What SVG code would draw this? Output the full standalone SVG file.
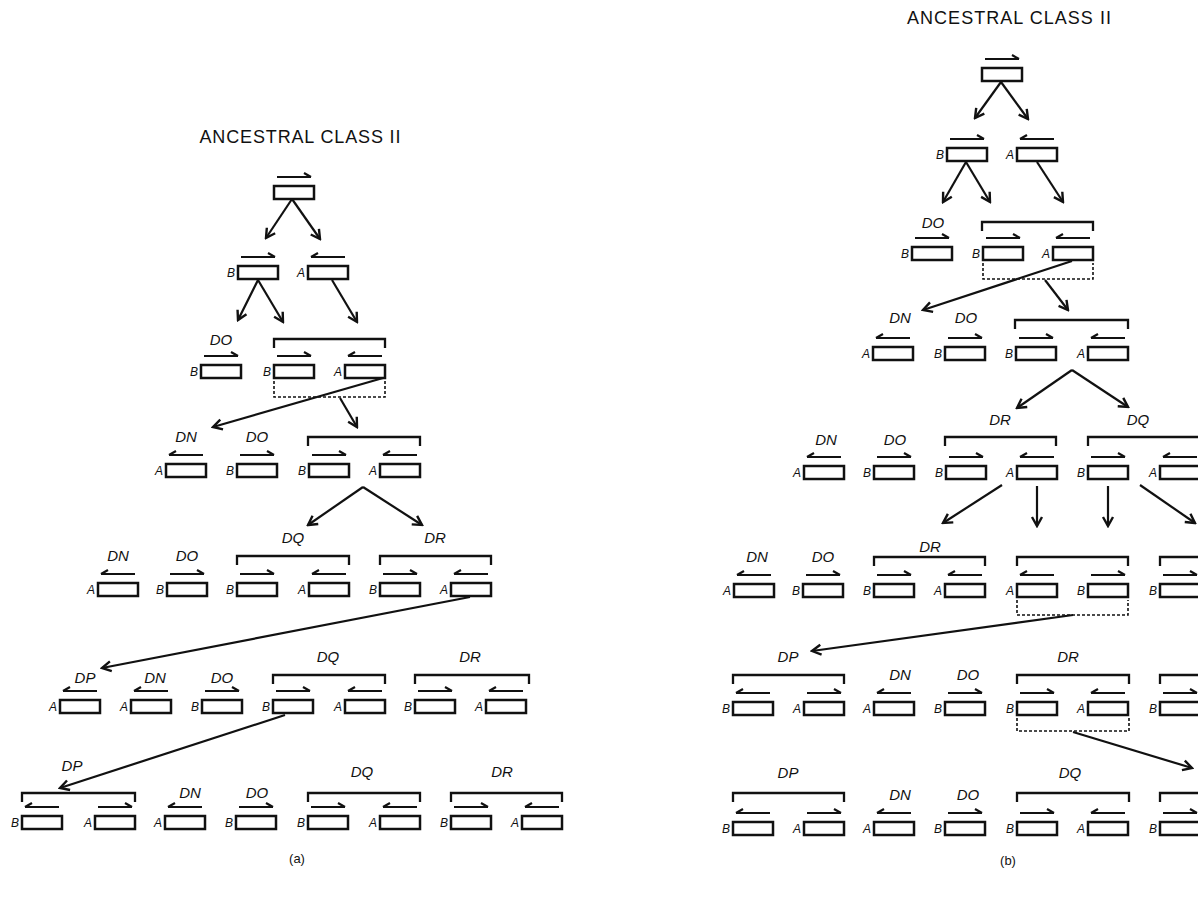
<svg xmlns="http://www.w3.org/2000/svg" xmlns:xlink="http://www.w3.org/1999/xlink" width="1198" height="902" viewBox="0 0 1198 902">
<style>
.br{fill:none;stroke:#111;stroke-width:2.3}
.ds{fill:none;stroke:#111;stroke-width:1.6;stroke-dasharray:3 2}
.cn{fill:none;stroke:#111;stroke-width:2.2;marker-end:url(#ah)}
.lb{font-family:"Liberation Sans",Arial,sans-serif;font-style:italic;font-size:15px;text-anchor:middle;fill:#111}
.lt{font-family:"Liberation Sans",Arial,sans-serif;font-style:italic;font-size:12px;text-anchor:end;fill:#111}
.tt{font-family:"Liberation Sans",Arial,sans-serif;font-size:18px;text-anchor:middle;fill:#111}
.cp{font-family:"Liberation Sans",Arial,sans-serif;font-size:13px;text-anchor:middle;fill:#111}
</style>
<defs>
<rect id="bx" width="40" height="13" fill="#fff" stroke="#111" stroke-width="2.5"/>
<path id="hr" d="M0 0H34M34 0L27 -4" fill="none" stroke="#111" stroke-width="2.2"/>
<path id="hl" d="M0 0H34M0 0L7 -4" fill="none" stroke="#111" stroke-width="2.2"/>
<marker id="ah" viewBox="-11 -7 13 14" refX="0" refY="0" markerWidth="13" markerHeight="14" markerUnits="userSpaceOnUse" orient="auto">
<path d="M-9 -5L0 0L-9 5" fill="none" stroke="#111" stroke-width="2.4"/>
</marker>
</defs>
<rect width="1198" height="902" fill="#fff"/>

<!-- ===== (a) ===== -->
<text class="tt" x="300" y="143" textLength="201" lengthAdjust="spacing">ANCESTRAL CLASS II</text>
<g id="a-root"><use href="#hr" x="277" y="177"/><use href="#bx" x="274" y="186"/></g>
<g id="a2-B"><use href="#hr" x="241" y="257"/><use href="#bx" x="238" y="266"/><text class="lt" x="235" y="277">B</text></g>
<g id="a2-A"><use href="#hl" x="311" y="257"/><use href="#bx" x="308" y="266"/><text class="lt" x="305" y="277">A</text></g>

<g id="a3-DO"><text class="lb" x="221" y="345">DO</text><use href="#hr" x="204" y="356"/><use href="#bx" x="201" y="365"/><text class="lt" x="198" y="376">B</text></g>
<g id="a3-pair"><path class="br" d="M274 348V339H385V348"/><use href="#hr" x="277" y="356"/><use href="#bx" x="274" y="365"/><text class="lt" x="271" y="376">B</text><use href="#hl" x="348" y="356"/><use href="#bx" x="345" y="365"/><text class="lt" x="342" y="376">A</text><path class="ds" d="M274 381V397H385V381"/></g>

<g id="a4-DN"><text class="lb" x="186" y="442">DN</text><use href="#hl" x="169" y="455"/><use href="#bx" x="166" y="464"/><text class="lt" x="163" y="475">A</text></g>
<g id="a4-DO"><text class="lb" x="257" y="442">DO</text><use href="#hr" x="240" y="455"/><use href="#bx" x="237" y="464"/><text class="lt" x="234" y="475">B</text></g>
<g id="a4-pair"><path class="br" d="M308 446V437H420V446"/><use href="#hr" x="312" y="455"/><use href="#bx" x="309" y="464"/><text class="lt" x="306" y="475">B</text><use href="#hl" x="383" y="455"/><use href="#bx" x="380" y="464"/><text class="lt" x="377" y="475">A</text></g>

<g id="a5-DN"><text class="lb" x="118" y="561">DN</text><use href="#hl" x="101" y="574"/><use href="#bx" x="98" y="583"/><text class="lt" x="95" y="594">A</text></g>
<g id="a5-DO"><text class="lb" x="187" y="561">DO</text><use href="#hr" x="170" y="574"/><use href="#bx" x="167" y="583"/><text class="lt" x="164" y="594">B</text></g>
<g id="a5-DQ"><text class="lb" x="293" y="543">DQ</text><path class="br" d="M237 565V556H349V565"/><use href="#hr" x="240" y="574"/><use href="#bx" x="237" y="583"/><text class="lt" x="234" y="594">B</text><use href="#hl" x="312" y="574"/><use href="#bx" x="309" y="583"/><text class="lt" x="306" y="594">A</text></g>
<g id="a5-DR"><text class="lb" x="435" y="543">DR</text><path class="br" d="M380 565V556H491V565"/><use href="#hr" x="383" y="574"/><use href="#bx" x="380" y="583"/><text class="lt" x="377" y="594">B</text><use href="#hl" x="454" y="574"/><use href="#bx" x="451" y="583"/><text class="lt" x="448" y="594">A</text></g>

<g id="a6-DP"><text class="lb" x="85" y="683">DP</text><use href="#hl" x="63" y="691"/><use href="#bx" x="60" y="700"/><text class="lt" x="57" y="711">A</text></g>
<g id="a6-DN"><text class="lb" x="155" y="683">DN</text><use href="#hl" x="134" y="691"/><use href="#bx" x="131" y="700"/><text class="lt" x="128" y="711">A</text></g>
<g id="a6-DO"><text class="lb" x="222" y="683">DO</text><use href="#hr" x="205" y="691"/><use href="#bx" x="202" y="700"/><text class="lt" x="199" y="711">B</text></g>
<g id="a6-DQ"><text class="lb" x="328" y="662">DQ</text><path class="br" d="M273 684V675H385V684"/><use href="#hr" x="276" y="691"/><use href="#bx" x="273" y="700"/><text class="lt" x="270" y="711">B</text><use href="#hl" x="348" y="691"/><use href="#bx" x="345" y="700"/><text class="lt" x="342" y="711">A</text></g>
<g id="a6-DR"><text class="lb" x="470" y="662">DR</text><path class="br" d="M415 684V675H529V684"/><use href="#hr" x="418" y="691"/><use href="#bx" x="415" y="700"/><text class="lt" x="412" y="711">B</text><use href="#hl" x="489" y="691"/><use href="#bx" x="486" y="700"/><text class="lt" x="483" y="711">A</text></g>

<g id="a7-DP"><text class="lb" x="72" y="771">DP</text><path class="br" d="M22 802V793H135V802"/><use href="#hl" x="25" y="807"/><use href="#bx" x="22" y="816"/><text class="lt" x="19" y="827">B</text><use href="#hr" x="98" y="807"/><use href="#bx" x="95" y="816"/><text class="lt" x="92" y="827">A</text></g>
<g id="a7-DN"><text class="lb" x="190" y="798">DN</text><use href="#hl" x="168" y="807"/><use href="#bx" x="165" y="816"/><text class="lt" x="162" y="827">A</text></g>
<g id="a7-DO"><text class="lb" x="257" y="798">DO</text><use href="#hr" x="239" y="807"/><use href="#bx" x="236" y="816"/><text class="lt" x="233" y="827">B</text></g>
<g id="a7-DQ"><text class="lb" x="362" y="777">DQ</text><path class="br" d="M308 802V793H420V802"/><use href="#hr" x="311" y="807"/><use href="#bx" x="308" y="816"/><text class="lt" x="305" y="827">B</text><use href="#hl" x="383" y="807"/><use href="#bx" x="380" y="816"/><text class="lt" x="377" y="827">A</text></g>
<g id="a7-DR"><text class="lb" x="502" y="777">DR</text><path class="br" d="M451 802V793H562V802"/><use href="#hr" x="454" y="807"/><use href="#bx" x="451" y="816"/><text class="lt" x="448" y="827">B</text><use href="#hl" x="525" y="807"/><use href="#bx" x="522" y="816"/><text class="lt" x="519" y="827">A</text></g>
<text class="cp" x="297" y="863">(a)</text>

<!-- ===== (b) ===== -->
<text class="tt" x="1009" y="24" textLength="204" lengthAdjust="spacing">ANCESTRAL CLASS II</text>
<g id="b-root"><use href="#hr" x="985" y="59"/><use href="#bx" x="982" y="68"/></g>
<g id="b2-B"><use href="#hr" x="950" y="139"/><use href="#bx" x="947" y="148"/><text class="lt" x="944" y="159">B</text></g>
<g id="b2-A"><use href="#hl" x="1020" y="139"/><use href="#bx" x="1017" y="148"/><text class="lt" x="1014" y="159">A</text></g>

<g id="b3-DO"><text class="lb" x="933" y="228">DO</text><use href="#hr" x="915" y="238"/><use href="#bx" x="912" y="247"/><text class="lt" x="909" y="258">B</text></g>
<g id="b3-pair"><path class="br" d="M982 231V222H1093V231"/><use href="#hr" x="986" y="238"/><use href="#bx" x="983" y="247"/><text class="lt" x="980" y="258">B</text><use href="#hl" x="1056" y="238"/><use href="#bx" x="1053" y="247"/><text class="lt" x="1050" y="258">A</text><path class="ds" d="M983 263V279H1093V263"/></g>

<g id="b4-DN"><text class="lb" x="900" y="323">DN</text><use href="#hl" x="876" y="338"/><use href="#bx" x="873" y="347"/><text class="lt" x="870" y="358">A</text></g>
<g id="b4-DO"><text class="lb" x="966" y="323">DO</text><use href="#hr" x="948" y="338"/><use href="#bx" x="945" y="347"/><text class="lt" x="942" y="358">B</text></g>
<g id="b4-pair"><path class="br" d="M1015 329V320H1128V329"/><use href="#hr" x="1019" y="338"/><use href="#bx" x="1016" y="347"/><text class="lt" x="1013" y="358">B</text><use href="#hl" x="1091" y="338"/><use href="#bx" x="1088" y="347"/><text class="lt" x="1085" y="358">A</text></g>

<g id="b5-DN"><text class="lb" x="826" y="445">DN</text><use href="#hl" x="807" y="457"/><use href="#bx" x="804" y="466"/><text class="lt" x="801" y="477">A</text></g>
<g id="b5-DO"><text class="lb" x="895" y="445">DO</text><use href="#hr" x="877" y="457"/><use href="#bx" x="874" y="466"/><text class="lt" x="871" y="477">B</text></g>
<g id="b5-DR"><text class="lb" x="1000" y="425">DR</text><path class="br" d="M945 446V437H1056V446"/><use href="#hr" x="949" y="457"/><use href="#bx" x="946" y="466"/><text class="lt" x="943" y="477">B</text><use href="#hl" x="1020" y="457"/><use href="#bx" x="1017" y="466"/><text class="lt" x="1014" y="477">A</text></g>
<g id="b5-DQ"><text class="lb" x="1138" y="425">DQ</text><path class="br" d="M1088 446V437H1210"/><use href="#hr" x="1091" y="457"/><use href="#bx" x="1088" y="466"/><text class="lt" x="1085" y="477">B</text><use href="#hl" x="1163" y="457"/><use href="#bx" x="1160" y="466"/><text class="lt" x="1157" y="477">A</text></g>

<g id="b6-DN"><text class="lb" x="757" y="562">DN</text><use href="#hl" x="737" y="575"/><use href="#bx" x="734" y="584"/><text class="lt" x="731" y="595">A</text></g>
<g id="b6-DO"><text class="lb" x="823" y="562">DO</text><use href="#hr" x="806" y="575"/><use href="#bx" x="803" y="584"/><text class="lt" x="800" y="595">B</text></g>
<g id="b6-DR"><text class="lb" x="930" y="552">DR</text><path class="br" d="M874 566V557H985V566"/><use href="#hr" x="877" y="575"/><use href="#bx" x="874" y="584"/><text class="lt" x="871" y="595">B</text><use href="#hl" x="948" y="575"/><use href="#bx" x="945" y="584"/><text class="lt" x="942" y="595">A</text></g>
<g id="b6-pair"><path class="br" d="M1017 566V557H1128V566"/><use href="#hl" x="1020" y="575"/><use href="#bx" x="1017" y="584"/><text class="lt" x="1014" y="595">A</text><use href="#hr" x="1091" y="575"/><use href="#bx" x="1088" y="584"/><text class="lt" x="1085" y="595">B</text><path class="ds" d="M1017 600V615H1128V600"/></g>
<g id="b6-R"><path class="br" d="M1160 566V557H1210"/><use href="#hr" x="1163" y="575"/><use href="#bx" x="1160" y="584"/><text class="lt" x="1157" y="595">B</text></g>

<g id="b7-DP"><text class="lb" x="788" y="662">DP</text><path class="br" d="M733 684V675H844V684"/><use href="#hl" x="736" y="693"/><use href="#bx" x="733" y="702"/><text class="lt" x="730" y="713">B</text><use href="#hr" x="807" y="693"/><use href="#bx" x="804" y="702"/><text class="lt" x="801" y="713">A</text></g>
<g id="b7-DN"><text class="lb" x="900" y="680">DN</text><use href="#hl" x="877" y="693"/><use href="#bx" x="874" y="702"/><text class="lt" x="871" y="713">A</text></g>
<g id="b7-DO"><text class="lb" x="968" y="680">DO</text><use href="#hr" x="948" y="693"/><use href="#bx" x="945" y="702"/><text class="lt" x="942" y="713">B</text></g>
<g id="b7-DR"><text class="lb" x="1068" y="662">DR</text><path class="br" d="M1017 684V675H1129V684"/><use href="#hr" x="1020" y="693"/><use href="#bx" x="1017" y="702"/><text class="lt" x="1014" y="713">B</text><use href="#hl" x="1091" y="693"/><use href="#bx" x="1088" y="702"/><text class="lt" x="1085" y="713">A</text><path class="ds" d="M1017 718V731H1129V718"/></g>
<g id="b7-R"><path class="br" d="M1160 684V675H1210"/><use href="#hr" x="1163" y="693"/><use href="#bx" x="1160" y="702"/><text class="lt" x="1157" y="713">B</text></g>

<g id="b8-DP"><text class="lb" x="788" y="778">DP</text><path class="br" d="M733 802V793H844V802"/><use href="#hl" x="736" y="813"/><use href="#bx" x="733" y="822"/><text class="lt" x="730" y="833">B</text><use href="#hr" x="807" y="813"/><use href="#bx" x="804" y="822"/><text class="lt" x="801" y="833">A</text></g>
<g id="b8-DN"><text class="lb" x="900" y="800">DN</text><use href="#hl" x="877" y="813"/><use href="#bx" x="874" y="822"/><text class="lt" x="871" y="833">A</text></g>
<g id="b8-DO"><text class="lb" x="968" y="800">DO</text><use href="#hr" x="948" y="813"/><use href="#bx" x="945" y="822"/><text class="lt" x="942" y="833">B</text></g>
<g id="b8-DQ"><text class="lb" x="1070" y="778">DQ</text><path class="br" d="M1017 802V793H1129V802"/><use href="#hr" x="1020" y="813"/><use href="#bx" x="1017" y="822"/><text class="lt" x="1014" y="833">B</text><use href="#hl" x="1091" y="813"/><use href="#bx" x="1088" y="822"/><text class="lt" x="1085" y="833">A</text></g>
<g id="b8-R"><path class="br" d="M1160 802V793H1210"/><use href="#hr" x="1163" y="813"/><use href="#bx" x="1160" y="822"/><text class="lt" x="1157" y="833">B</text></g>
<text class="cp" x="1008" y="865">(b)</text>

<g id="connectors">
<path class="cn" d="M292 199L266 238"/>
<path class="cn" d="M292 199L320 239"/>
<path class="cn" d="M258 280L238 320"/>
<path class="cn" d="M258 280L283 322"/>
<path class="cn" d="M332 280L357 322"/>
<path class="cn" d="M383 378L213 427"/>
<path class="cn" d="M340 398L357 427"/>
<path class="cn" d="M363 487L308 525"/>
<path class="cn" d="M363 487L422 525"/>
<path class="cn" d="M470 597L102 668"/>
<path class="cn" d="M285 715L60 788"/>
<path class="cn" d="M1001 82L975 118"/>
<path class="cn" d="M1001 82L1028 119"/>
<path class="cn" d="M966 162L943 202"/>
<path class="cn" d="M966 162L990 202"/>
<path class="cn" d="M1037 162L1063 202"/>
<path class="cn" d="M1072 261L923 310"/>
<path class="cn" d="M1045 280L1068 310"/>
<path class="cn" d="M1072 370L1017 408"/>
<path class="cn" d="M1072 370L1128 407"/>
<path class="cn" d="M1002 485L943 523"/>
<path class="cn" d="M1037 486V526"/>
<path class="cn" d="M1108 486V526"/>
<path class="cn" d="M1140 485L1195 523"/>
<path class="cn" d="M1073 615L812 651"/>
<path class="cn" d="M1073 732L1192 768"/>
</g>
</svg>
